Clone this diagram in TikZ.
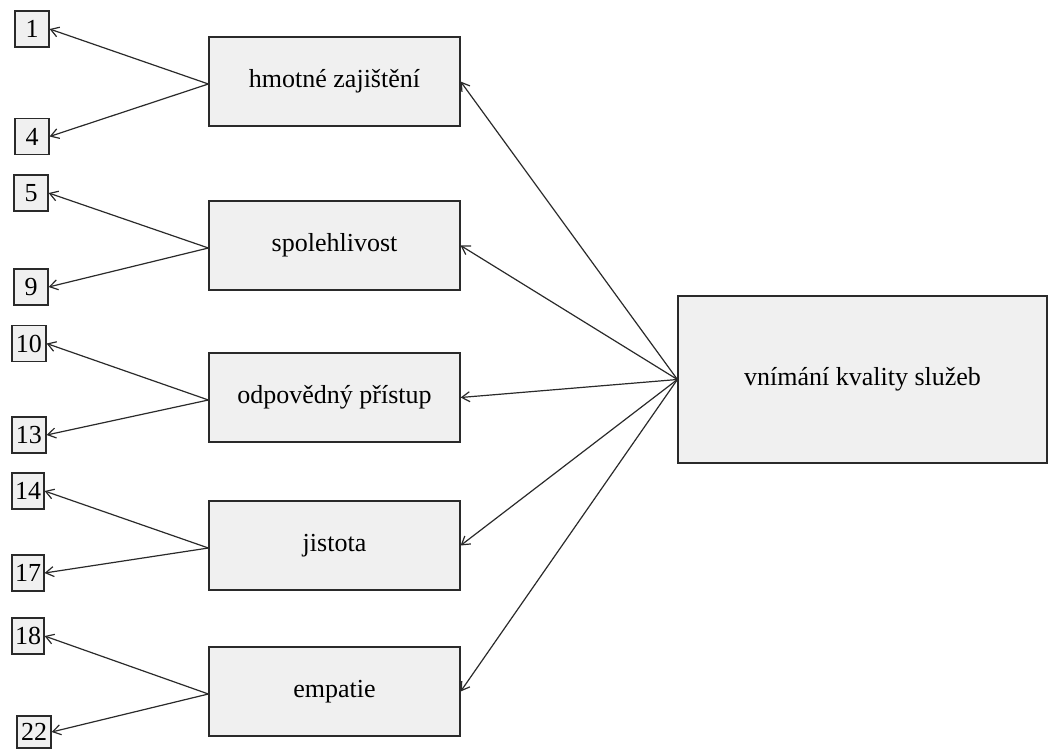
\documentclass[tikz,border=0pt]{standalone}
\usepackage{fontspec}
\setmainfont{Liberation Serif}
\usetikzlibrary{arrows.meta}
\definecolor{boxfill}{HTML}{F0F0F0}
\definecolor{linec}{HTML}{2A2A2A}
\tikzset{
  numbox/.style={draw=linec, fill=boxfill, line width=1.2pt, inner sep=0pt,
    minimum width=34pt, minimum height=36pt, font=\fontsize{26}{30}\selectfont},
  midbox/.style={draw=linec, fill=boxfill, line width=1.2pt, inner sep=0pt,
    minimum width=251pt, minimum height=89pt, font=\fontsize{26}{30}\selectfont},
  bigbox/.style={draw=linec, fill=boxfill, line width=1.2pt, inner sep=0pt,
    minimum width=369pt, minimum height=167pt, font=\fontsize{26}{30}\selectfont},
  conn/.style={draw=linec, line width=1.2pt, -{Straight Barb[length=8pt,width=10pt]}}
}
\begin{document}
\begin{tikzpicture}[x=1pt, y=-1pt]
\useasboundingbox (0,0) rectangle (1048,749);
% small number boxes
\node[numbox] (n1)  at (32,29)    {1};
\node[numbox] (n4)  at (32,136.5) {4};
\node[numbox] (n5)  at (31,193)   {5};
\node[numbox] (n9)  at (31,287)   {9};
\node[numbox] (n10) at (29,343.5) {10};
\node[numbox] (n13) at (29,435)   {13};
\node[numbox, minimum width=32pt] (n14) at (28,491) {14};
\node[numbox, minimum width=32pt] (n17) at (28,573) {17};
\node[numbox, minimum width=32pt] (n18) at (28,636) {18};
\node[numbox, minimum height=32pt] (n22) at (34,732) {22};
% middle boxes
\node[midbox] (m1) at (334.5,81.5)  {hmotné zajištění};
\node[midbox] (m2) at (334.5,245.5) {spolehlivost};
\node[midbox] (m3) at (334.5,397.5) {odpovědný přístup};
\node[midbox] (m4) at (334.5,545.5) {jistota};
\node[midbox] (m5) at (334.5,691.5) {empatie};
% big box
\node[bigbox] (big) at (862.5,379.5) {vnímání kvality služeb};
% connectors big -> middle
\foreach \m in {m1,m2,m3,m4,m5}{
  \draw[conn] (big.west) -- (\m.east);
}
% connectors middle -> numbers
\draw[conn] ([yshift=-2.5pt]m1.west) -- (n1.east);
\draw[conn] ([yshift=-2.5pt]m1.west) -- (n4.east);
\draw[conn] ([yshift=-2.5pt]m2.west) -- (n5.east);
\draw[conn] ([yshift=-2.5pt]m2.west) -- (n9.east);
\draw[conn] ([yshift=-2.5pt]m3.west) -- (n10.east);
\draw[conn] ([yshift=-2.5pt]m3.west) -- (n13.east);
\draw[conn] ([yshift=-2.5pt]m4.west) -- (n14.east);
\draw[conn] ([yshift=-2.5pt]m4.west) -- (n17.east);
\draw[conn] ([yshift=-2.5pt]m5.west) -- (n18.east);
\draw[conn] ([yshift=-2.5pt]m5.west) -- (n22.east);
\end{tikzpicture}
\end{document}
